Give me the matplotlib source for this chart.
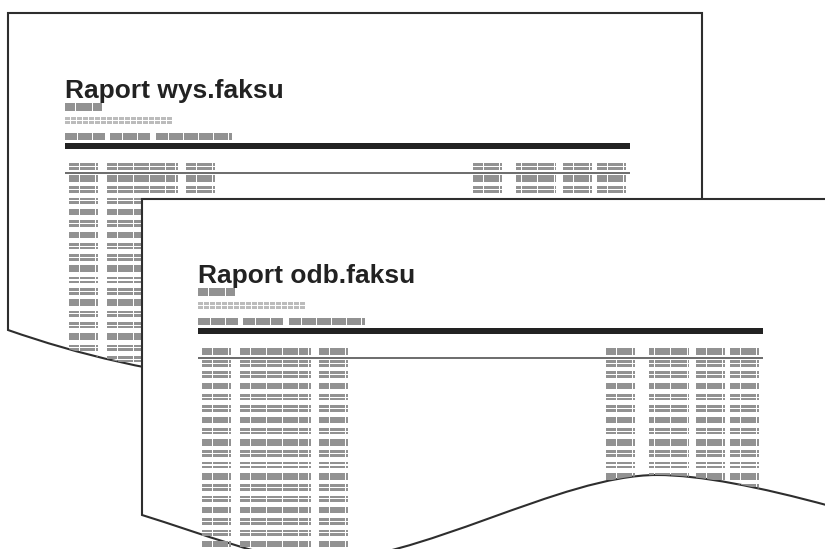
import matplotlib.pyplot as plt
from matplotlib.patches import Rectangle, PathPatch
from matplotlib.collections import PatchCollection
from matplotlib.path import Path

# texts of the two report sheets
titles = ['Raport wys.faksu', 'Raport odb.faksu']
# table rows: S = solid grey bar, D = double thin line
header_kind = ['D', 'S']
sub_kind = ['S', 'D']
row_patterns = ['SDDSDSDDSDDSDDSDDS', 'DDSDDSDSDDSDDSDDS']

# column blocks of the table (start, segment widths), left and right groups
left_cols = [(69, [10, 15, 2]), (107, [10, 15, 15, 15, 9, 2]), (186, [10, 15, 2])]
right_cols = [(473, [10, 15, 2]), (516, [5, 15, 16, 1]), (563, [10, 15, 2]), (597, [10, 15, 2])]

GREY = '#929292'
LIGHT = '#bcbcbc'
DARK = '#222222'
EDGE = '#2e2e2e'

fig = plt.figure(figsize=(8.25, 5.49), dpi=100)
ax = fig.add_axes([0, 0, 1, 1])
ax.set_xlim(0, 825)
ax.set_ylim(549, 0)
ax.axis('off')


def bars(x0, y0, segs, kind, h=6.5, gap=1.0, bh=2.7):
    out = []
    x = x0
    for w in segs:
        if kind == 'S':
            out.append(Rectangle((x, y0), w, h))
        else:
            out.append(Rectangle((x, y0), w, bh))
            out.append(Rectangle((x, y0 + h - bh), w, bh))
        x += w + gap
    return out


def add(rects, color, z, clip=None):
    pc = PatchCollection(rects, facecolor=color, edgecolor='none', zorder=z)
    ax.add_collection(pc)
    if clip is not None:
        pc.set_clip_path(clip)


# back sheet
back_path = Path([(8, 13), (702, 13), (702, 385), (260, 385),
                  (150, 372), (80, 355), (8, 330), (8, 13)],
                 [Path.MOVETO, Path.LINETO, Path.LINETO, Path.LINETO,
                  Path.CURVE4, Path.CURVE4, Path.CURVE4, Path.CLOSEPOLY])
back = PathPatch(back_path, facecolor='white', edgecolor=EDGE, lw=1.5, zorder=1)
ax.add_patch(back)

# front sheet
front_path = Path([(142, 199), (840, 199), (840, 508), (830, 506),
                   (760, 487), (700, 475), (657, 475),
                   (560, 475), (420, 562), (313, 562),
                   (270, 560), (200, 533), (142, 515), (142, 199)],
                  [Path.MOVETO, Path.LINETO, Path.LINETO, Path.LINETO,
                   Path.CURVE4, Path.CURVE4, Path.CURVE4,
                   Path.CURVE4, Path.CURVE4, Path.CURVE4,
                   Path.CURVE4, Path.CURVE4, Path.CURVE4, Path.CLOSEPOLY])
front = PathPatch(front_path, facecolor='white', edgecolor=EDGE, lw=1.5, zorder=3)
ax.add_patch(front)

offsets = [(0, 0), (133, 185)]
for i, (dx, dy) in enumerate(offsets):
    z = 2 if i == 0 else 4
    page = back if i == 0 else front

    ax.text(65 + dx, 98 + dy, titles[i], fontsize=19, fontweight='bold',
            family='Liberation Sans', color=DARK, va='baseline', ha='left', zorder=z)

    head = []
    head += bars(65 + dx, 103 + dy, [10, 16, 9], sub_kind[i], h=8, bh=3.6)
    head += bars(65 + dx, 133 + dy, [12, 14, 12], 'S')
    head += bars(110 + dx, 133 + dy, [12, 14, 12], 'S')
    head += bars(156 + dx, 133 + dy, [12, 14, 14, 14, 14, 3], 'S')
    add(head, GREY, z, page)
    add(bars(65 + dx, 117 + dy, [5] * 18, 'D', h=7, bh=2.8), LIGHT, z, page)

    # thick rule and thin header rule
    add([Rectangle((65 + dx, 143 + dy), 565, 5.5)], DARK, z, page)
    add([Rectangle((65 + dx, 172.3 + dy), 565, 1.6)], '#6f6f6f', z, page)

    left, right = [], []
    for x0, segs in left_cols:
        left += bars(x0 + dx, 163 + dy, segs, header_kind[i])
    for x0, segs in right_cols:
        right += bars(x0 + dx, 163 + dy, segs, header_kind[i])
    for k, kind in enumerate(row_patterns[i]):
        y0 = 175 + k * 11.3 + dy
        for x0, segs in left_cols:
            left += bars(x0 + dx, y0, segs, kind)
        for x0, segs in right_cols:
            right += bars(x0 + dx, y0, segs, kind)
    add(left, GREY, z, page if i == 0 else None)
    add(right, GREY, z, page)

fig.savefig('out.png', dpi=100)
